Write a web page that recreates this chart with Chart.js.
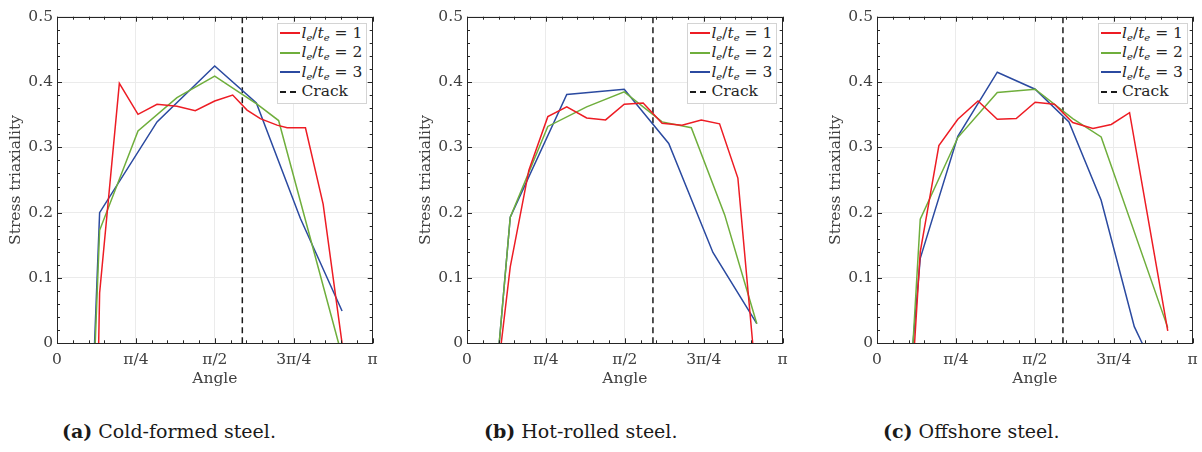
<!DOCTYPE html>
<html>
<head>
<meta charset="utf-8">
<script src="https://cdn.jsdelivr.net/npm/chart.js@4.4.1/dist/chart.umd.min.js"></script>
<style>
  html, body { margin: 0; padding: 0; background: #fff; }
  body { width: 1202px; height: 452px; position: relative; overflow: hidden; font-family: "DejaVu Serif", serif; }
  .panel { position: absolute; top: 0; width: 390px; height: 400px; }
  .legend { position: absolute; top: 22.7px; right: 19.3px; width: 85px; background: #fff; border: 1px solid #d4d4d4;
            padding: 0 1px 1px 2px; font-size: 15.5px; color: #262626; line-height: 19.5px; }
  .legend .row { white-space: nowrap; display: flex; align-items: center; }
  .legend .sw { display: inline-block; width: 20px; height: 2px; margin-right: 1px; flex: none; }
  .legend .dash { background: repeating-linear-gradient(90deg, #1a1a1a 0 6px, transparent 6px 10px); }
  .legend sub { font-size: 10px; font-style: italic; vertical-align: -3px; line-height: 0; }
  .cap { position: absolute; top: 420px; font-size: 19px; color: #1a1a1a; white-space: nowrap; }
</style>
</head>
<body>
<div class="panel" id="p0" style="left:-3.3px"><canvas id="c0" width="390" height="400"></canvas><div class="legend" id="l0"></div></div>
<div class="panel" id="p1" style="left:406.7px"><canvas id="c1" width="390" height="400"></canvas><div class="legend" id="l1"></div></div>
<div class="panel" id="p2" style="left:817.3px"><canvas id="c2" width="390" height="400"></canvas><div class="legend" id="l2"></div></div>
<div class="cap" style="left:62px"><b>(a)</b> Cold-formed steel.</div>
<div class="cap" style="left:484px"><b>(b)</b> Hot-rolled steel.</div>
<div class="cap" style="left:883px"><b>(c)</b> Offshore steel.</div>
<script>
// angles are in units of pi
const xTickVals = [0, 0.25, 0.5, 0.75, 1];
const xTickLabels = ['0', 'π/4', 'π/2', '3π/4', 'π'];
const yTickLabels = ['0', '0.1', '0.2', '0.3', '0.4', '0.5'];
const ratios = [1, 2, 3];
const colors = ['#ed1c24', '#6fae3c', '#2b4aa0'];
const crackX = [0.587, 0.589, 0.589];

// (a) cold-formed
const aRedX = [0.132, 0.135, 0.1975, 0.2566, 0.3168, 0.380, 0.438, 0.4995, 0.5565, 0.602, 0.644, 0.697, 0.729, 0.787, 0.843, 0.903];
const aRedY = [0, 0.077, 0.398, 0.3505, 0.366, 0.363, 0.356, 0.371, 0.380, 0.357, 0.344, 0.334, 0.330, 0.330, 0.213, 0];
const aGreenX = [0.121, 0.135, 0.2566, 0.380, 0.4995, 0.6336, 0.702, 0.892];
const aGreenY = [0, 0.173, 0.325, 0.376, 0.409, 0.366, 0.341, 0];
const aBlueX = [0.119, 0.135, 0.3168, 0.4995, 0.6315, 0.771, 0.903];
const aBlueY = [0, 0.200, 0.339, 0.4245, 0.368, 0.191, 0.0495];

// (b) hot-rolled
const bRedX = [0.1084, 0.137, 0.196, 0.256, 0.316, 0.379, 0.439, 0.498, 0.558, 0.618, 0.681, 0.742, 0.800, 0.858, 0.905];
const bRedY = [0, 0.117, 0.265, 0.347, 0.362, 0.345, 0.342, 0.366, 0.368, 0.337, 0.334, 0.342, 0.336, 0.253, 0];
const bGreenX = [0.102, 0.137, 0.256, 0.379, 0.498, 0.618, 0.7105, 0.816, 0.918];
const bGreenY = [0, 0.193, 0.332, 0.362, 0.385, 0.339, 0.330, 0.197, 0.030];
const bBlueX = [0.102, 0.137, 0.316, 0.498, 0.639, 0.779, 0.918];
const bBlueY = [0, 0.193, 0.381, 0.389, 0.306, 0.139, 0.030];

// (c) offshore
const cRedX = [0.119, 0.137, 0.196, 0.256, 0.320, 0.381, 0.441, 0.501, 0.562, 0.620, 0.684, 0.742, 0.800, 0.921];
const cRedY = [0, 0.14, 0.3026, 0.343, 0.371, 0.343, 0.344, 0.369, 0.366, 0.338, 0.329, 0.335, 0.353, 0.019];
const cGreenX = [0.114, 0.137, 0.256, 0.381, 0.501, 0.620, 0.710, 0.921];
const cGreenY = [0, 0.190, 0.315, 0.384, 0.389, 0.344, 0.316, 0.024];
const cBlueX = [0.114, 0.137, 0.256, 0.381, 0.501, 0.608, 0.710, 0.815, 0.840];
const cBlueY = [0, 0.130, 0.317, 0.415, 0.389, 0.339, 0.219, 0.0255, 0];

const panels = [
  [[aRedX, aRedY], [aGreenX, aGreenY], [aBlueX, aBlueY]],
  [[bRedX, bRedY], [bGreenX, bGreenY], [bBlueX, bBlueY]],
  [[cRedX, cRedY], [cGreenX, cGreenY], [cBlueX, cBlueY]]
];

const pts = (xs, ys) => xs.map((x, i) => ({x: x, y: ys[i]}));
const FONT = '"DejaVu Serif", serif';

// box around the axes with inward tick marks on all four sides
const boxTicks = {
  id: 'boxTicks',
  afterDatasetsDraw(chart) {
    const {ctx, chartArea: a, scales: {x, y}} = chart;
    ctx.save();
    ctx.strokeStyle = '#262626';
    ctx.lineWidth = 1;
    ctx.beginPath();
    for (let i = 0; i <= 20; i++) {
      const px = Math.round(x.getPixelForValue(i / 20)) + 0.5;
      const len = i % 5 ? 3 : 5;
      ctx.moveTo(px, a.bottom); ctx.lineTo(px, a.bottom - len);
      ctx.moveTo(px, a.top); ctx.lineTo(px, a.top + len);
    }
    for (let i = 0; i <= 25; i++) {
      const py = Math.round(y.getPixelForValue(i * 0.02)) + 0.5;
      const len = i % 5 ? 3 : 5;
      ctx.moveTo(a.left, py); ctx.lineTo(a.left + len, py);
      ctx.moveTo(a.right, py); ctx.lineTo(a.right - len, py);
    }
    ctx.stroke();
    ctx.strokeRect(Math.round(a.left) + 0.5, Math.round(a.top) + 0.5, Math.round(a.width) - 1, Math.round(a.height) - 1);
    ctx.restore();
  }
};

panels.forEach((series, p) => {
  const datasets = series.map((s, i) => ({
    label: 'le/te = ' + ratios[i],
    data: pts(s[0], s[1]),
    borderColor: colors[i],
    borderWidth: 1.5,
    pointRadius: 0,
    fill: false,
    tension: 0
  }));
  datasets.push({
    label: 'Crack',
    data: [{x: crackX[p], y: 0}, {x: crackX[p], y: 0.5}],
    borderColor: '#1a1a1a',
    borderWidth: 1.5,
    borderDash: [6, 4],
    pointRadius: 0,
    fill: false
  });

  new Chart(document.getElementById('c' + p), {
    type: 'line',
    data: {datasets: datasets},
    plugins: [boxTicks],
    options: {
      responsive: false,
      animation: false,
      devicePixelRatio: 1,
      layout: {padding: {top: 16.7, right: 14.3, left: 0, bottom: 0}},
      plugins: {legend: {display: false}, tooltip: {enabled: false}},
      scales: {
        x: {
          type: 'linear', min: 0, max: 1,
          afterBuildTicks: s => { s.ticks = xTickVals.map(v => ({value: v})); },
          afterFit: s => { s.height = 56.7; },
          ticks: {
            callback: (v, i) => xTickLabels[i],
            color: '#404040', font: {family: FONT, size: 15.5}, padding: 7, maxRotation: 0
          },
          grid: {color: '#ebebeb', drawTicks: false},
          border: {display: false},
          title: {display: true, text: 'Angle', color: '#404040', font: {family: FONT, size: 15.5}, padding: {top: 0, bottom: 12}}
        },
        y: {
          min: 0, max: 0.5,
          afterBuildTicks: s => { s.ticks = yTickLabels.map((t, i) => ({value: i / 10})); },
          afterFit: s => { s.width = 60; },
          ticks: {
            callback: (v, i) => yTickLabels[i],
            color: '#404040', font: {family: FONT, size: 15.5}, padding: 4
          },
          grid: {color: '#ebebeb', drawTicks: false},
          border: {display: false},
          title: {display: true, text: 'Stress triaxiality', color: '#404040', font: {family: FONT, size: 15.5}, padding: {top: 10, bottom: 0}}
        }
      }
    }
  });

  // legend as html so the subscripts stay real text
  const leg = document.getElementById('l' + p);
  let html = '';
  ratios.forEach((r, i) => {
    html += '<div class="row"><span class="sw" style="background:' + colors[i] + '"></span>' +
            '<span><i>l</i><sub>e</sub>/<i>t</i><sub>e</sub>&nbsp;=&nbsp;' + r + '</span></div>';
  });
  html += '<div class="row"><span class="sw dash"></span><span>Crack</span></div>';
  leg.innerHTML = html;
});
</script>
</body>
</html>
